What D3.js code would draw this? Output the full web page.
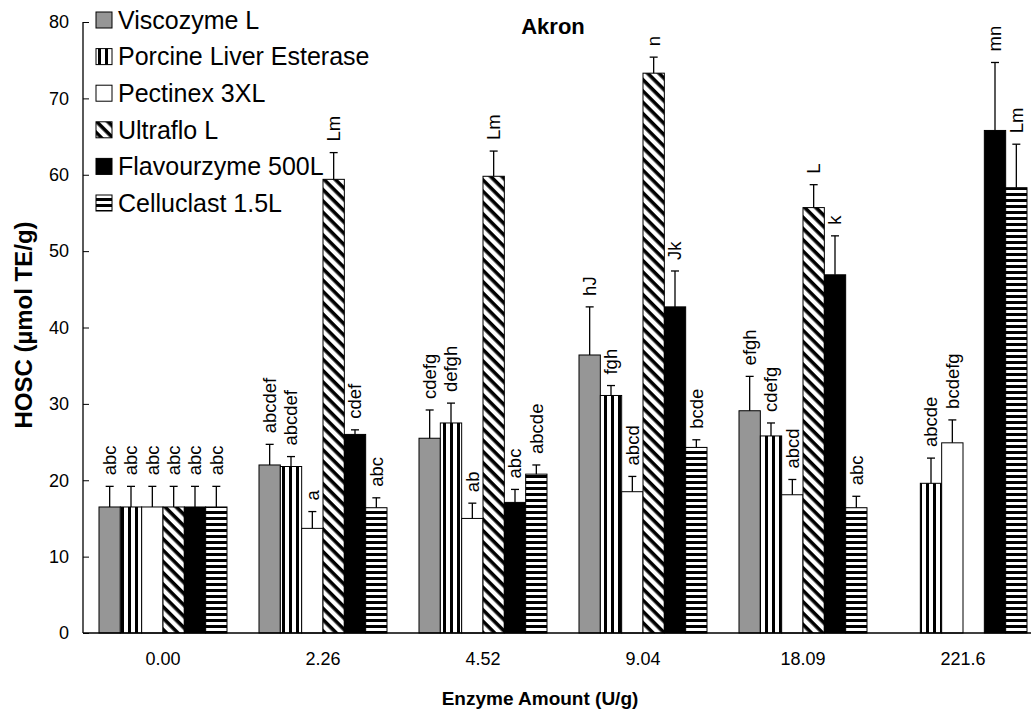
<!DOCTYPE html>
<html>
<head>
<meta charset="utf-8">
<script src="https://cdn.jsdelivr.net/npm/d3@7"></script>
<style>
  body { margin: 0; background: #fff; overflow: hidden; }
  text { font-family: Arial, "Liberation Sans", sans-serif; fill: #000; }
</style>
</head>
<body>
<div id="chart"></div>
<script>
var groups = ["0.00", "2.26", "4.52", "9.04", "18.09", "221.6"];
var enzymes = ["Viscozyme L", "Porcine Liver Esterase", "Pectinex 3XL", "Ultraflo L", "Flavourzyme 500L", "Celluclast 1.5L"];
var yTicks = [0, 10, 20, 30, 40, 50, 60, 70, 80];

// mean HOSC per enzyme, one value per enzyme amount (null = not measured)
var viscozyme   = [16.5, 22.0, 25.5, 36.4, 29.1, null];
var porcine     = [16.5, 21.8, 27.5, 31.1, 25.8, 19.6];
var pectinex    = [16.5, 13.7, 15.0, 18.5, 18.1, 24.9];
var ultraflo    = [16.5, 59.4, 59.8, 73.3, 55.7, null];
var flavourzyme = [16.5, 26.0, 17.1, 42.7, 46.9, 65.8];
var celluclast  = [16.5, 16.4, 20.8, 24.3, 16.4, 58.3];

// upper error bars
var viscozymeErr   = [2.7, 2.7, 3.7, 6.3, 4.5, null];
var porcineErr     = [2.7, 1.3, 2.6, 1.3, 1.7, 3.3];
var pectinexErr    = [2.7, 2.2, 2.0, 2.0, 2.0, 3.0];
var ultrafloErr    = [2.7, 3.5, 3.3, 2.1, 3.0, null];
var flavourzymeErr = [2.7, 0.6, 1.7, 4.7, 5.1, 8.9];
var celluclastErr  = [2.7, 1.3, 1.2, 1.0, 1.5, 5.7];

// significance letters
var viscozymeLbl   = ["abc", "abcdef", "cdefg", "hJ", "efgh", ""];
var porcineLbl     = ["abc", "abcdef", "defgh", "fgh", "cdefg", "abcde"];
var pectinexLbl    = ["abc", "a", "ab", "abcd", "abcd", "bcdefg"];
var ultrafloLbl    = ["abc", "Lm", "Lm", "n", "L", ""];
var flavourzymeLbl = ["abc", "cdef", "abc", "Jk", "k", "mn"];
var celluclastLbl  = ["abc", "abc", "abcde", "bcde", "abc", "Lm"];

var series = [
    {name: enzymes[0], vals: viscozyme, err: viscozymeErr, lbl: viscozymeLbl, fill: "#969696"},
    {name: enzymes[1], vals: porcine, err: porcineErr, lbl: porcineLbl, fill: "url(#vstripe)"},
    {name: enzymes[2], vals: pectinex, err: pectinexErr, lbl: pectinexLbl, fill: "#fff"},
    {name: enzymes[3], vals: ultraflo, err: ultrafloErr, lbl: ultrafloLbl, fill: "url(#diag)"},
    {name: enzymes[4], vals: flavourzyme, err: flavourzymeErr, lbl: flavourzymeLbl, fill: "#000"},
    {name: enzymes[5], vals: celluclast, err: celluclastErr, lbl: celluclastLbl, fill: "url(#hstripe)"}
];

var width = 1031;
var height = 711;
var marginLeft = 83, marginTop = 22, plotRight = 1043, plotBottom = 633;

var svg = d3.select("#chart").append("svg")
    .attr("width", width)
    .attr("height", height);

// fill patterns
var defs = svg.append("defs");
var pv = defs.append("pattern").attr("id", "vstripe").attr("patternUnits", "userSpaceOnUse")
    .attr("width", 7).attr("height", 7);
pv.append("rect").attr("width", 7).attr("height", 7).attr("fill", "#fff");
pv.append("rect").attr("x", 2).attr("width", 3).attr("height", 7).attr("fill", "#000");

var ph = defs.append("pattern").attr("id", "hstripe").attr("patternUnits", "userSpaceOnUse")
    .attr("width", 6).attr("height", 6);
ph.append("rect").attr("width", 6).attr("height", 6).attr("fill", "#fff");
ph.append("rect").attr("y", 1).attr("width", 6).attr("height", 3).attr("fill", "#000");

var pd = defs.append("pattern").attr("id", "diag").attr("patternUnits", "userSpaceOnUse")
    .attr("width", 8).attr("height", 8).attr("patternTransform", "rotate(45)");
pd.append("rect").attr("width", 8).attr("height", 8).attr("fill", "#fff");
pd.append("rect").attr("width", 8).attr("height", 3.6).attr("fill", "#000");

var x0 = d3.scaleBand().domain(groups).range([marginLeft, plotRight]);
var x1 = d3.scaleBand().domain(enzymes).range([16, x0.bandwidth() - 16]);
var y = d3.scaleLinear().domain([0, 80]).range([plotBottom, marginTop]);

// bars
var g = svg.append("g");
series.forEach(function (s) {
    var rows = groups.map(function (gr, i) {
        return {group: gr, v: s.vals[i], e: s.err[i], l: s.lbl[i]};
    }).filter(function (d) { return d.v != null; });

    var bx = function (d) { return x0(d.group) + x1(s.name); };
    var cx = function (d) { return bx(d) + x1.bandwidth() / 2; };

    g.selectAll(null).data(rows).enter().append("rect")
        .attr("x", bx)
        .attr("y", function (d) { return y(d.v); })
        .attr("width", x1.bandwidth())
        .attr("height", function (d) { return y(0) - y(d.v); })
        .attr("fill", s.fill)
        .attr("stroke", "#000")
        .attr("stroke-width", 1);

    g.selectAll(null).data(rows).enter().append("line")
        .attr("x1", cx).attr("x2", cx)
        .attr("y1", function (d) { return y(d.v); })
        .attr("y2", function (d) { return y(d.v + d.e); })
        .attr("stroke", "#000").attr("stroke-width", 1.3);

    g.selectAll(null).data(rows).enter().append("line")
        .attr("x1", function (d) { return cx(d) - 4; })
        .attr("x2", function (d) { return cx(d) + 4; })
        .attr("y1", function (d) { return y(d.v + d.e); })
        .attr("y2", function (d) { return y(d.v + d.e); })
        .attr("stroke", "#000").attr("stroke-width", 1.3);

    g.selectAll(null).data(rows).enter().append("text")
        .attr("transform", function (d) {
            return "translate(" + cx(d) + "," + (y(d.v + d.e) - 11) + ") rotate(-90)";
        })
        .attr("dy", "0.35em")
        .style("font-size", "18.5px")
        .text(function (d) { return d.l; });
});

// axes
var yAxis = svg.append("g").attr("transform", "translate(" + marginLeft + ",0)")
    .call(d3.axisLeft(y).tickValues(yTicks).tickSize(-6).tickPadding(14));
yAxis.select(".domain").attr("d", "M0," + marginTop + "V" + plotBottom).attr("stroke-width", 1.3);
yAxis.selectAll("text").style("font-size", "18px");

var xAxis = svg.append("g").attr("transform", "translate(0," + plotBottom + ")")
    .call(d3.axisBottom(x0).tickSize(0).tickPadding(19));
xAxis.select(".domain").attr("d", "M" + marginLeft + ",0H" + plotRight).attr("stroke-width", 1.3);
xAxis.selectAll("text").style("font-size", "18px");

// titles
svg.append("text").attr("x", 553).attr("y", 34).attr("text-anchor", "middle")
    .style("font-size", "22px").style("font-weight", "bold").text("Akron");

svg.append("text").attr("x", 540).attr("y", 705).attr("text-anchor", "middle")
    .style("font-size", "19px").style("font-weight", "bold").text("Enzyme Amount (U/g)");

svg.append("text").attr("transform", "translate(32,325) rotate(-90)").attr("text-anchor", "middle")
    .style("font-size", "24px").style("font-weight", "bold").text("HOSC (\u00b5mol TE/g)");

// legend
var leg = svg.append("g").attr("transform", "translate(96,20)");
var li = leg.selectAll("g").data(series).enter().append("g")
    .attr("transform", function (d, i) { return "translate(0," + (i * 36.6) + ")"; });
li.append("rect").attr("x", 0).attr("y", -8).attr("width", 16).attr("height", 16)
    .attr("fill", function (d) { return d.fill; })
    .attr("stroke", "#000").attr("stroke-width", 1);
li.append("text").attr("x", 22).attr("dy", "0.35em")
    .style("font-size", "25px")
    .text(function (d) { return d.name; });
</script>
</body>
</html>
